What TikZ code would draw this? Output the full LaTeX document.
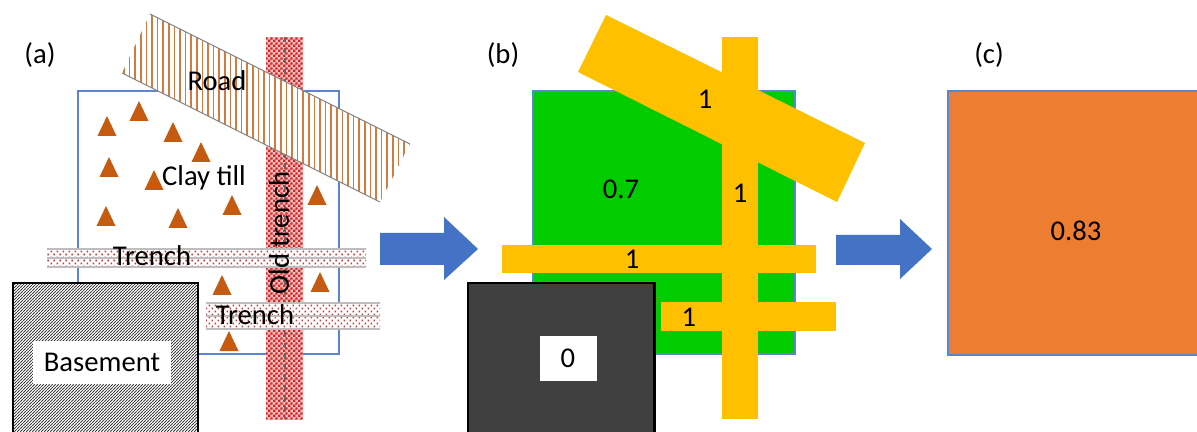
\documentclass[tikz,border=0pt]{standalone}
\usepackage{fontspec}
\setmainfont{Carlito}
\usetikzlibrary{patterns}
\definecolor{boxblue}{HTML}{4472C4}
\definecolor{edgeblue}{HTML}{5B85CE}
\definecolor{roadbrown}{HTML}{C55A11}
\definecolor{clayorange}{HTML}{ED7D31}
\definecolor{layergold}{HTML}{FFC000}
\definecolor{tillgreen}{HTML}{00CC00}
\definecolor{basegray}{HTML}{404040}
\definecolor{trenchred}{HTML}{C00000}
\definecolor{edgegray}{HTML}{BDBDBD}
\pgfdeclarepatternformonly{finehatch}{\pgfpointorigin}{\pgfqpoint{1.7pt}{1.7pt}}{\pgfqpoint{1.7pt}{1.7pt}}{
  \pgfsetlinewidth{0.55pt}
  \pgfpathmoveto{\pgfqpoint{-0.2pt}{-0.2pt}}
  \pgfpathlineto{\pgfqpoint{1.9pt}{1.9pt}}
  \pgfusepath{stroke}
}
\pgfdeclarepatternformonly{finecheck}{\pgfpointorigin}{\pgfqpoint{3pt}{3pt}}{\pgfqpoint{3pt}{3pt}}{
  \pgfpathrectangle{\pgfpointorigin}{\pgfqpoint{1.5pt}{1.5pt}}
  \pgfpathrectangle{\pgfqpoint{1.5pt}{1.5pt}}{\pgfqpoint{1.5pt}{1.5pt}}
  \pgfusepath{fill}
}
\pgfdeclarepatternformonly{finedots}{\pgfpointorigin}{\pgfqpoint{3.6pt}{3.4pt}}{\pgfqpoint{3.6pt}{3.4pt}}{
  \pgfpathrectangle{\pgfqpoint{0.4pt}{0.4pt}}{\pgfqpoint{0.9pt}{0.9pt}}
  \pgfpathrectangle{\pgfqpoint{2.2pt}{2.1pt}}{\pgfqpoint{0.9pt}{0.9pt}}
  \pgfusepath{fill}
}
\begin{document}
\begin{tikzpicture}[x=0.02cm, y=-0.02cm,
    lbl/.style={font=\fontsize{16.3}{20}\selectfont, inner sep=0pt, text=black},
    panelbox/.style={draw=edgeblue, line width=1.3pt},
    trenchband/.style={pattern=finedots, pattern color=trenchred!80, draw=none},
    blockarrow/.style={fill=boxblue, draw=none}]
  \clip (0,0) rectangle (1197,432);
  \fill[white] (0,0) rectangle (1197,432);
  % panel a
  \draw[panelbox] (78,91) rectangle (339,354);
  \fill[red!25] (266,37) rectangle (303,419);
  \fill[pattern=finecheck, pattern color=trenchred!85] (266,37) rectangle (303,419);
  \draw[black!60, dashed, line width=0.6pt] (285,37) -- (285,419);
  \foreach \x/\y in {107/126,139/111,173/132,201/152,109/167,154/180,232/205,178/218,
                     106/216,317/195,222/285,320/282,229/341}{
    \fill[roadbrown] (\x,\y-10) -- (\x+9.5,\y+10) -- (\x-9.5,\y+10) -- cycle;
  }
  \foreach \xa/\ya/\xb/\yb in {47/249/366/267,206/303/380/329}{
    \fill[white] (\xa,\ya) rectangle (\xb,\yb);
    \fill[trenchband] (\xa,\ya) rectangle (\xb,\yb);
    \draw[edgegray, line width=0.6pt] (\xa,\ya) -- (\xb,\ya) (\xa,\yb) -- (\xb,\yb)
      (\xa,\ya/2+\yb/2) -- (\xb,\ya/2+\yb/2);
  }
  \fill[white] (150,14) -- (410,144) -- (380,202) -- (122,73) -- cycle;
  \begin{scope}
    \clip (150,14) -- (410,144) -- (380,202) -- (122,73) -- cycle;
    \foreach \x in {124,129.6,...,412}{
      \draw[roadbrown!80, line width=1pt] (\x,0) -- (\x,210);
    }
  \end{scope}
  \draw[edgegray!70!black, line width=0.6pt] (150,14) -- (410,144) (122,73) -- (380,202);
  \fill[white] (13,283) rectangle (198,440);
  \fill[pattern=finehatch, pattern color=black!75] (13,283) rectangle (198,440);
  \draw[black, line width=1.7pt] (13,283) rectangle (198,440);
  \fill[white] (33,341) rectangle (171,384);
  \node[lbl] (labela) at (40,55) {(a)};
  \node[lbl] (road) at (217,81) {Road};
  \node[lbl] (clay) at (204,178) {Clay till};
  \node[lbl] (trencha) at (152,256) {Trench};
  \node[lbl] (trenchb) at (255,315) {Trench};
  \node[lbl, rotate=90] (oldtrench) at (279,233) {Old trench};
  \node[lbl] (basement) at (102,362) {Basement};
  \fill[blockarrow] (380,233) -- (444,233) -- (444,217) -- (478,249) -- (444,280) -- (444,265) -- (380,265) -- cycle;
  % panel b
  \fill[tillgreen] (533,91) rectangle (795,354);
  \draw[panelbox] (533,91) rectangle (795,354);
  \fill[layergold] (606,15) -- (865,143) -- (837,202) -- (578,72) -- cycle;
  \fill[layergold] (722,37) rectangle (758,419);
  \fill[layergold] (502,245) rectangle (816,273);
  \fill[layergold] (661,302) rectangle (836,331);
  \fill[basegray] (468,283) rectangle (654,440);
  \draw[black, line width=1.7pt] (468,283) rectangle (654,440);
  \fill[white] (540,336) rectangle (597,381);
  \node[lbl] (labelb) at (503,55) {(b)};
  \foreach \n/\x/\y/\t in {one/705/99/1,two/740/193/1,three/632/259/1,four/689/317/1,till/621/189/0.7,base/568/358/0}{
    \node[lbl] (val\n) at (\x,\y) {\t};
  }
  \fill[blockarrow] (836,235) -- (900,235) -- (900,219) -- (932,249) -- (900,279) -- (900,265) -- (836,265) -- cycle;
  % panel c
  \fill[clayorange] (948,91) rectangle (1210,355);
  \draw[panelbox] (948,91) rectangle (1210,355);
  \node[lbl] (labelc) at (989,55) {(c)};
  \node[lbl] (valc) at (1076,231) {0.83};
\end{tikzpicture}
\end{document}
